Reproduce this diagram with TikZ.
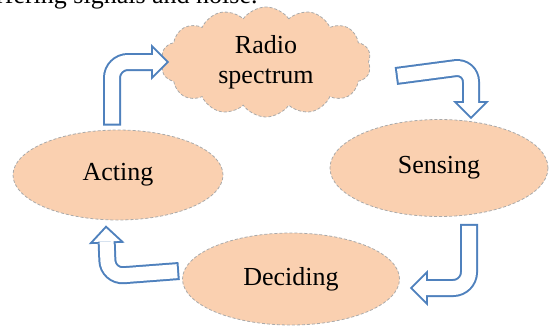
\documentclass[tikz,border=0pt]{standalone}
\usepackage{fontspec}
\setmainfont{Liberation Serif}
\usetikzlibrary{shapes.geometric,shapes.symbols,arrows.meta,calc}
\definecolor{peach}{RGB}{250,208,176}
\definecolor{rimgray}{RGB}{170,170,170}
\definecolor{flowblue}{RGB}{79,129,189}
\tikzset{
	x=0.5pt, y=-0.5pt, % one unit is one pixel of the target, y runs downwards
	every node/.style={font=\fontsize{13}{15}\selectfont}, % Times-like text everywhere
	phase/.style={ellipse, fill=peach, draw=rimgray, dash pattern=on 1.5pt off 1pt, line width=0.4pt, inner sep=0pt}, % the stages of the cycle
	flowrim/.style={draw=flowblue, line width=9pt, rounded corners=8pt, -{Triangle[length=9pt,width=18pt,line width=0pt]}}, % blue outline of a block arrow
	flowcore/.style={draw=white, line width=7pt, rounded corners=8pt, shorten <=1pt, shorten >=1.41pt, -{Triangle[length=6.6pt,width=13.2pt,line width=0pt]}}, % white inside of it
}
\newcommand{\blockarrow}[1]{\draw[flowrim] #1; \draw[flowcore] #1;}

\begin{document}
\begin{tikzpicture}
	\useasboundingbox (0,0) rectangle (549,327);
	\clip (0,0) rectangle (549,327);
	
	\node[cloud, cloud ignores aspect, cloud puffs=14, cloud puff arc=110, fill=peach, draw=rimgray, dash pattern=on 1.5pt off 1pt, line width=0.4pt, minimum width=105pt, minimum height=55pt, inner sep=0pt, align=center] (spectrum) at (266,62) {Radio\\spectrum};
	\node[phase, minimum width=105pt, minimum height=45pt] (acting) at (118,175) {Acting};
	\node[phase, minimum width=109pt, minimum height=48.5pt] (sensing) at (439,168) {Sensing};
	\node[phase, minimum width=108.5pt, minimum height=46pt] (deciding) at (291,279) {Deciding};
	
	\node[anchor=base east, inner sep=0pt] (caption) at (258,3) {interfering signals and noise.};
	
	\blockarrow{($(acting.north)+(-6,-4)$) |- ($(spectrum.west)+(6,0)$)}
	\blockarrow{($(spectrum.east)+(27,14)$) -- ($(sensing.north)+(32,-53)$) -- ($(sensing.north)+(32,0)$)}
	\blockarrow{($(sensing.south)+(30,7)$) |- ($(deciding.east)+(10,9)$)}
	\blockarrow{($(deciding.west)+(-3,-8)$) -- ($(acting.south)+(-10,56)$) -- ($(acting.south)+(-12,5)$)}
	
\end{tikzpicture}
\end{document}
